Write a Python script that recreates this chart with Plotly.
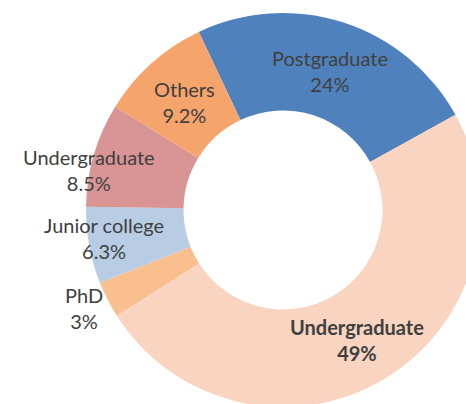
import plotly.graph_objects as go

# Data (clockwise from the Others/Postgraduate boundary)
categories = ["Postgraduate", "Undergraduate", "PhD", "Junior college", "Undergraduate", "Others"]
slice_ids = ["Postgraduate", "Undergraduate (main)", "PhD", "Junior college", "Undergraduate (other)", "Others"]
values = [24, 49, 3, 6.3, 8.5, 9.2]
value_labels = ["24%", "49%", "3%", "6.3%", "8.5%", "9.2%"]
colors = ["#4F81BD", "#F9D4C1", "#F9BF8E", "#B8CCE4", "#D99594", "#F5A46C"]
bold = [False, True, False, False, False, False]

# label centres in pixels (x, y from top)
label_px = [(330, 71), (357, 340), (84, 308), (104, 238), (89, 170), (184, 102)]

W, H = 480, 407
CX, CY, R = 283, 210, 197
ML, MR, MT, MB = CX - R, W - CX - R, CY - R, H - CY - R
PW, PH = W - ML - MR, H - MT - MB

fig = go.Figure(
    go.Pie(
        labels=slice_ids,
        values=values,
        sort=False,
        direction="clockwise",
        rotation=-25.3,
        hole=0.505,
        marker=dict(colors=colors, line=dict(width=0)),
        textinfo="none",
        hoverinfo="label+percent",
        showlegend=False,
    )
)

annotations = []
for cat, vl, b, (px, py) in zip(categories, value_labels, bold, label_px):
    txt = f"{cat}<br>{vl}"
    if b:
        txt = f"<b>{cat}</b><br><b>{vl}</b>"
    annotations.append(
        dict(
            x=(px - ML) / PW,
            y=1 - (py - MT) / PH,
            xref="paper",
            yref="paper",
            text=txt,
            showarrow=False,
            xanchor="center",
            yanchor="middle",
            align="center",
            font=dict(family="Lato", size=20, color="#404040"),
        )
    )

fig.update_layout(
    width=W,
    height=H,
    margin=dict(l=ML, r=MR, t=MT, b=MB, pad=0),
    paper_bgcolor="white",
    plot_bgcolor="white",
    annotations=annotations,
)

fig.write_html(
    "out.html",
    config={"displayModeBar": False},
    post_script="document.body.style.margin='0';document.body.style.overflow='hidden';document.documentElement.style.overflow='hidden';",
)
